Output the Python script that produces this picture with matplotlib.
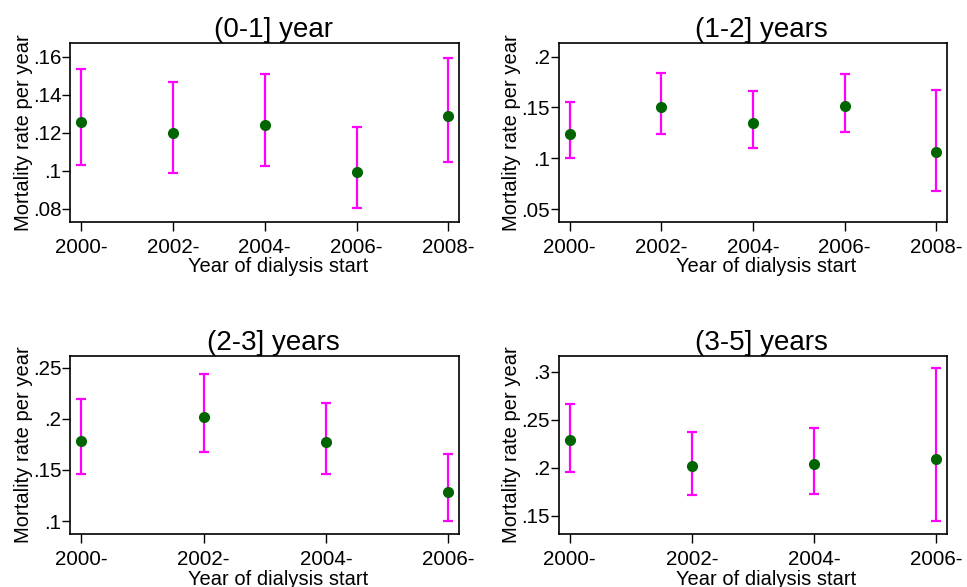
import numpy as np
import matplotlib
matplotlib.use("Agg")
import matplotlib.pyplot as plt
from matplotlib.ticker import FuncFormatter

plt.rcParams['font.family'] = ['Liberation Sans', 'DejaVu Sans']

# (0-1] year
p1_years = ["2000-", "2002-", "2004-", "2006-", "2008-"]
p1_rate = [0.1259, 0.1201, 0.1241, 0.0995, 0.1290]
p1_lo = [0.1033, 0.0989, 0.1023, 0.0806, 0.1044]
p1_hi = [0.1535, 0.1467, 0.1509, 0.1231, 0.1591]

# (1-2] years
p2_years = ["2000-", "2002-", "2004-", "2006-", "2008-"]
p2_rate = [0.1242, 0.1505, 0.1347, 0.1511, 0.1065]
p2_lo = [0.1003, 0.1242, 0.1104, 0.1255, 0.0681]
p2_hi = [0.1554, 0.1843, 0.1665, 0.1827, 0.1675]

# (2-3] years
p3_years = ["2000-", "2002-", "2004-", "2006-"]
p3_rate = [0.1783, 0.2018, 0.1770, 0.1284]
p3_lo = [0.1457, 0.1675, 0.1457, 0.1000]
p3_hi = [0.2194, 0.2438, 0.2155, 0.1652]

# (3-5] years
p4_years = ["2000-", "2002-", "2004-", "2006-"]
p4_rate = [0.2285, 0.2018, 0.2039, 0.2094]
p4_lo = [0.1955, 0.1715, 0.1729, 0.1442]
p4_hi = [0.2667, 0.2372, 0.2410, 0.3038]

panels = [
    ("(0-1] year", p1_years, p1_rate, p1_lo, p1_hi, [.08, .10, .12, .14, .16], (.0733, .167)),
    ("(1-2] years", p2_years, p2_rate, p2_lo, p2_hi, [.05, .10, .15, .20], (.0375, .2132)),
    ("(2-3] years", p3_years, p3_rate, p3_lo, p3_hi, [.10, .15, .20, .25], (.0873, .2614)),
    ("(3-5] years", p4_years, p4_rate, p4_lo, p4_hi, [.15, .20, .25, .30], (.131, .3163)),
]

W, H = 967, 587
# axes boxes in pixels: left, top, right, bottom
boxes = [(70.3, 43.3, 459.3, 221.7), (558.7, 43.3, 947.3, 221.7),
         (70.3, 356, 459.3, 534), (558.7, 356, 947.3, 534)]

def stata_fmt(v, pos):
    s = ("%.2f" % v).rstrip("0").rstrip(".")
    return s[1:] if s.startswith("0.") else s

fig = plt.figure(figsize=(W / 100, H / 100), dpi=100)
for (title, cats, rate, lo, hi, yt, ylim), (l, t, r, b) in zip(panels, boxes):
    ax = fig.add_axes([l / W, 1 - b / H, (r - l) / W, (b - t) / H])
    x = np.arange(len(cats))
    rate = np.array(rate); lo = np.array(lo); hi = np.array(hi)
    ax.errorbar(x, rate, yerr=[rate - lo, hi - rate], fmt="none", ecolor="#ff00ff",
                elinewidth=1.6, capsize=3.5, capthick=1.6, zorder=2)
    ax.plot(x, rate, "o", color="#006400", ms=7, zorder=3)
    n = len(cats)
    pad = 0.12 if n == 5 else 0.09
    ax.set_xlim(-pad, n - 1 + pad)
    ax.set_ylim(*ylim)
    ax.set_xticks(x)
    ax.set_xticklabels(cats)
    ax.set_yticks(yt)
    ax.yaxis.set_major_formatter(FuncFormatter(stata_fmt))
    ax.tick_params(axis="both", labelsize=14.8, length=6, width=1, pad=0.5, direction="out")
    ax.tick_params(axis="x", length=6.5, pad=5)
    for s in ax.spines.values():
        s.set_linewidth(1.2)
    ax.set_title(title, fontsize=20, x=0.522, pad=4)
    ax.set_xlabel("Year of dialysis start", fontsize=14.5, labelpad=0.5, x=0.535)
    ax.set_ylabel("Mortality rate per year", fontsize=14.5, labelpad=0)

fig.savefig("out.png", dpi=100)
